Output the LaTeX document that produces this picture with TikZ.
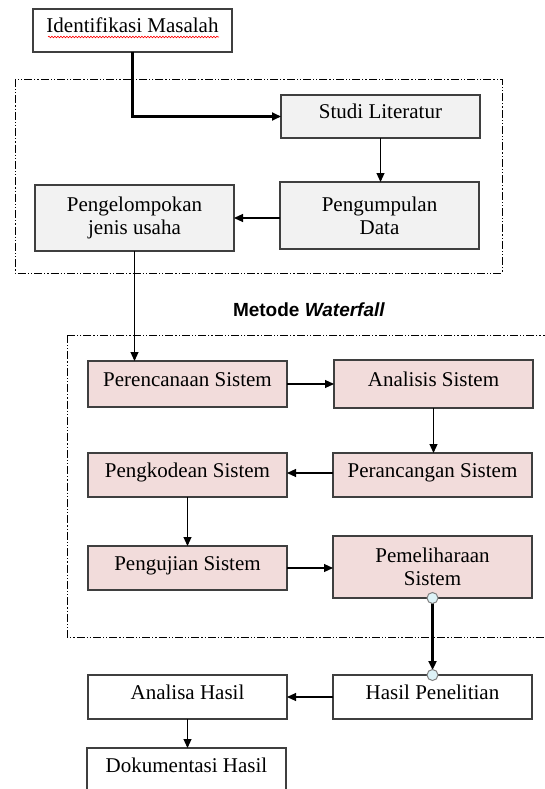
\documentclass[tikz,border=0pt]{standalone}
\usepackage{fontspec}
\setmainfont{Liberation Serif}
\newfontfamily\arialfont{Liberation Sans}
\usetikzlibrary{arrows.meta,decorations.pathmorphing}
\definecolor{boxgrey}{HTML}{F2F2F2}
\definecolor{boxpink}{HTML}{F2DCDB}
\definecolor{edgegrey}{HTML}{3F3F3F}
\definecolor{dotfill}{HTML}{DDF2F7}
\begin{document}
\begin{tikzpicture}[x=1pt,y=-1pt,
  every node/.style={font=\fontsize{21}{23}\selectfont},
  base/.style={draw=edgegrey,line width=1.3pt,inner sep=0pt,outer sep=0pt,
    minimum width=199pt,align=center},
  onel/.style={text height=14pt,text depth=10pt},
  greybox/.style={base,fill=boxgrey},
  pinkbox/.style={base,fill=boxpink},
  whitebox/.style={base,fill=white},
  conn/.style={draw=black,line width=1.1pt,-{Triangle[length=9pt,width=8pt]}},
  thickconn/.style={draw=black,line width=2.2pt,-{Triangle[length=9pt,width=8pt]}},
  frame/.style={draw=black,line width=0.9pt,
    dash pattern=on 8pt off 2pt on 1.2pt off 2pt on 1.2pt off 2pt},
  knob/.style={circle,draw=gray,line width=1pt,fill=dotfill,minimum size=11pt,inner sep=0pt}
]
\useasboundingbox (0,0) rectangle (544,789);
\fill[white] (0,0) rectangle (544,789);

% frames
\draw[frame] (15,79) rectangle (502,273);
\draw[frame] (67,335) rectangle (548,637);

% top group
\node[whitebox,onel,minimum height=43pt] (idm) at (132.5,30.5) {Identifikasi Masalah};
\draw[red,line width=0.6pt,decorate,decoration={snake,amplitude=0.8pt,segment length=3pt}]
  (48,37) -- (219,37);
\node[greybox,onel,minimum height=43pt] (studi) at (380.5,116.5) {Studi Literatur};
\node[greybox,minimum height=67pt] (kumpul) at (379.5,215.5) {Pengumpulan\\Data};
\node[greybox,minimum height=66pt] (kelompok) at (134.5,218) {Pengelompokan\\jenis usaha};

% waterfall
\node[font=\arialfont\bfseries\fontsize{19}{22}\selectfont] (wf) at (309,310) {Metode \textit{Waterfall}};
\node[pinkbox,onel,minimum height=46pt] (ren) at (187.5,384) {Perencanaan Sistem};
\node[pinkbox,onel,minimum height=48pt] (anl) at (433.5,384) {Analisis Sistem};
\node[pinkbox,onel,minimum height=44pt] (kod) at (187.5,475) {Pengkodean Sistem};
\node[pinkbox,onel,minimum height=44pt] (rancang) at (432.5,475) {Perancangan Sistem};
\node[pinkbox,onel,minimum height=44pt] (uji) at (187.5,568) {Pengujian Sistem};
\node[pinkbox,minimum height=62pt] (pel) at (432.5,567) {Pemeliharaan\\Sistem};

% results
\node[whitebox,onel,minimum height=44pt] (hasil) at (432.5,697) {Hasil Penelitian};
\node[whitebox,onel,minimum height=44pt] (analisa) at (187.5,697) {Analisa Hasil};
\node[whitebox,onel,minimum height=44pt] (dok) at (186.5,770) {Dokumentasi Hasil};

% connectors
\draw[thickconn] (idm.south) |- (studi.west);
\draw[conn] (studi.south) -- (studi.south |- kumpul.north);
\draw[conn] (kumpul.west |- kelompok.east) -- (kelompok.east);
\draw[conn] (kelompok.south) -- (kelompok.south |- ren.north);
\draw[conn] (ren.east) -- (ren.east -| anl.west);
\draw[conn] (anl.south) -- (anl.south |- rancang.north);
\draw[conn] ([yshift=2pt]rancang.west) -- ([yshift=2pt]kod.east);
\draw[conn] (kod.south) -- (kod.south |- uji.north);
\draw[conn] (uji.east) -- (uji.east -| pel.west);
\draw[thickconn,shorten >=5pt] (pel.south) -- (hasil.north);
\node[knob] (k1) at (pel.south) {};
\node[knob] (k2) at (hasil.north) {};
\draw[conn] (hasil.west) -- (analisa.east);
\draw[conn] (analisa.south) -- (analisa.south |- dok.north);
\end{tikzpicture}
\end{document}
